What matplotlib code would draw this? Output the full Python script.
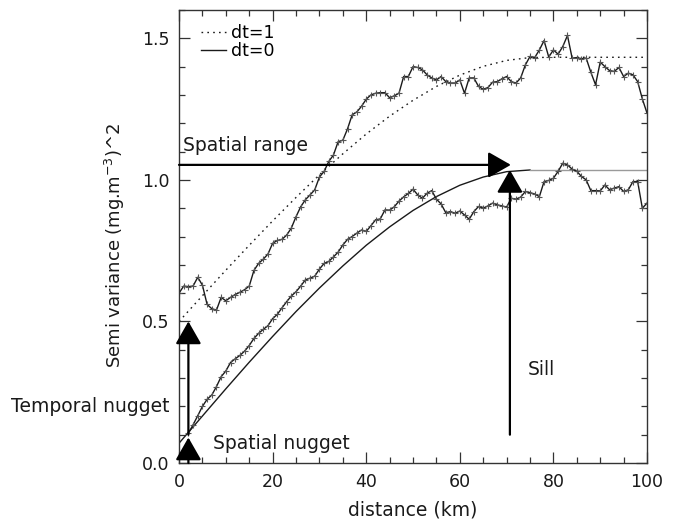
import numpy as np
import matplotlib
matplotlib.use('Agg')
import matplotlib.pyplot as plt
from matplotlib.ticker import MultipleLocator, FormatStrFormatter

# empirical semivariograms, one value per km
dist_dt1 = list(range(0, 101))
gamma_dt1 = [0.600, 0.625, 0.623, 0.625, 0.656, 0.628, 0.560, 0.545, 0.540, 0.585,
             0.573, 0.585, 0.595, 0.603, 0.612, 0.625, 0.680, 0.705, 0.720, 0.738,
             0.776, 0.786, 0.790, 0.805, 0.830, 0.870, 0.905, 0.930, 0.947, 0.965,
             1.010, 1.030, 1.065, 1.088, 1.135, 1.140, 1.180, 1.230, 1.240, 1.260,
             1.285, 1.300, 1.306, 1.308, 1.308, 1.290, 1.297, 1.306, 1.365, 1.365,
             1.400, 1.397, 1.389, 1.371, 1.360, 1.353, 1.365, 1.347, 1.342, 1.342,
             1.353, 1.306, 1.360, 1.360, 1.330, 1.320, 1.326, 1.345, 1.347, 1.357,
             1.365, 1.347, 1.342, 1.360, 1.406, 1.436, 1.432, 1.459, 1.492, 1.434,
             1.459, 1.444, 1.471, 1.510, 1.430, 1.432, 1.428, 1.430, 1.380, 1.336,
             1.416, 1.400, 1.386, 1.383, 1.397, 1.365, 1.377, 1.371, 1.347, 1.286,
             1.236]

dist_dt0 = list(range(2, 101))
gamma_dt0 = [0.105, 0.135, 0.167, 0.200, 0.225, 0.240, 0.270, 0.305,
             0.325, 0.355, 0.368, 0.380, 0.395, 0.415, 0.440, 0.458, 0.472, 0.485,
             0.510, 0.525, 0.548, 0.570, 0.590, 0.605, 0.625, 0.647, 0.653, 0.660,
             0.685, 0.705, 0.712, 0.728, 0.745, 0.770, 0.790, 0.800, 0.812, 0.823,
             0.818, 0.838, 0.859, 0.862, 0.894, 0.893, 0.905, 0.925, 0.940, 0.952,
             0.967, 0.947, 0.935, 0.953, 0.962, 0.932, 0.915, 0.884, 0.888, 0.882,
             0.890, 0.876, 0.861, 0.888, 0.906, 0.900, 0.908, 0.918, 0.912, 0.908,
             0.904, 0.935, 0.932, 0.939, 0.959, 0.955, 0.950, 0.941, 0.994, 0.998,
             1.006, 1.030, 1.059, 1.053, 1.038, 1.030, 1.012, 1.000, 0.962, 0.962,
             0.961, 0.982, 0.965, 0.971, 0.976, 0.959, 0.965, 0.994, 0.994, 0.900,
             0.918]

# fitted model curves (read every 5 km)
model_x = [0, 5, 10, 15, 20, 25, 30, 35, 40, 45, 50, 55, 60, 65, 70, 75, 80, 85, 90, 95, 100]
model_dt1 = [0.500, 0.591, 0.681, 0.769, 0.855, 0.938, 1.018, 1.092, 1.162, 1.225, 1.281,
             1.330, 1.370, 1.401, 1.422, 1.432, 1.433, 1.433, 1.433, 1.433, 1.433]
model_dt0 = [0.070, 0.166, 0.262, 0.356, 0.447, 0.535, 0.618, 0.696, 0.769, 0.834, 0.892,
             0.941, 0.981, 1.010, 1.029, 1.035, 1.035, 1.035, 1.035, 1.035, 1.035]

plt.rcParams['font.family'] = ['DejaVu Sans']
plt.rcParams['font.size'] = 12

fig = plt.figure(figsize=(6.87, 5.21), dpi=100)
ax = fig.add_axes([0.2606, 0.1113, 0.6812, 0.8695])

ink = '#1a1a1a'
wordsize = 13.5

# model curves
ax.plot(model_x, model_dt1, ls=(0, (1.2, 3)), color=ink, lw=1, label='dt=1')
ax.plot(model_x[:16], model_dt0[:16], color=ink, lw=1, label='dt=0')
ax.plot(model_x[15:], model_dt0[15:], color='#9a9a9a', lw=1)

# experimental curves
ax.plot(dist_dt1, gamma_dt1, color=ink, lw=1, marker='+', ms=5, mew=0.8, mec='#555555')
ax.plot(dist_dt0, gamma_dt0, color=ink, lw=1, marker='+', ms=5, mew=0.8, mec='#555555')

arrow = dict(arrowstyle='-|>,head_length=14,head_width=8', mutation_scale=1,
             lw=1.6, color='k', shrinkA=0, shrinkB=0)
ax.annotate('', xy=(2.0, 0.50), xytext=(2.0, 0.10), arrowprops=arrow)
ax.annotate('', xy=(2.0, 0.09), xytext=(2.0, 0.0), arrowprops=arrow, annotation_clip=False)
ax.annotate('', xy=(70.9, 1.053), xytext=(0, 1.053), arrowprops=arrow)
ax.annotate('', xy=(70.7, 1.035), xytext=(70.7, 0.10), arrowprops=arrow)

ax.text(0.9, 1.12, 'Spatial range', va='center', ha='left', color=ink, fontsize=wordsize)
ax.text(74.5, 0.33, 'Sill', va='center', ha='left', color=ink, fontsize=wordsize)
ax.text(7.2, 0.07, 'Spatial nugget', va='center', ha='left', color=ink, fontsize=wordsize)
ax.text(-2.0, 0.20, 'Temporal nugget', va='center', ha='right', color=ink,
        fontsize=wordsize, clip_on=False)

ax.set_xlim(0, 100)
ax.set_ylim(0, 1.6)
ax.xaxis.set_major_locator(MultipleLocator(20))
ax.xaxis.set_minor_locator(MultipleLocator(5))
ax.yaxis.set_major_locator(MultipleLocator(0.5))
ax.yaxis.set_minor_locator(MultipleLocator(0.1))
ax.yaxis.set_major_formatter(FormatStrFormatter('%.1f'))
ax.tick_params(which='both', direction='in', top=True, right=True, colors='#333333',
               labelcolor=ink, width=0.9, labelsize=12.5)
ax.tick_params(which='major', length=8, pad=7)
ax.tick_params(which='minor', length=4)
for s in ax.spines.values():
    s.set_color('#333333')
    s.set_linewidth(1)

ax.set_xlabel('distance (km)', labelpad=7, color=ink, fontsize=wordsize)
ax.set_ylabel('Semi variance (mg.m$^{-3}$)^2', color=ink, fontsize=13)
ax.yaxis.set_label_coords(-0.137, 0.48)
ax.yaxis.label.set_verticalalignment('center')

ax.legend(loc='upper left', bbox_to_anchor=(0.048, 0.968), frameon=False,
          handlelength=1.4, handletextpad=0.3, labelspacing=0.0,
          borderaxespad=0, borderpad=0, fontsize=12.5)

fig.savefig('out.png', dpi=100)
